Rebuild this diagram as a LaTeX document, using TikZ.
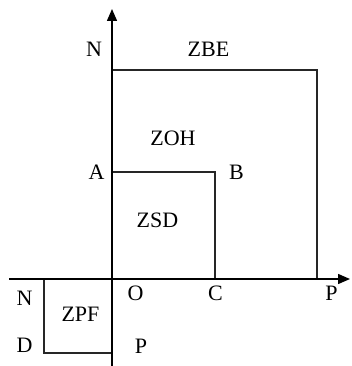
\documentclass[tikz,border=0pt]{standalone}
\usepackage{fontspec}
\setmainfont{Liberation Serif}
\usetikzlibrary{arrows.meta}
\tikzset{
  zonebox/.style={draw=black!85, line width=1.2pt},
  zaxis/.style={draw=black, line width=1.5pt, -{Triangle[length=12pt,width=10pt]}},
  zlabel/.style={font=\fontsize{22}{24}\selectfont, inner sep=0pt}
}

\begin{document}
\begin{tikzpicture}[x=1pt, y=-1pt]
\useasboundingbox (0,0) rectangle (351,366);

% axes
\coordinate (origin) at (112,279);
\coordinate (xstart) at (9,279);
\coordinate (xend) at (350,279);
\coordinate (ystart) at (112,366);
\coordinate (yend) at (112,9);

% zone corners
\coordinate (zbetop) at (112,70);
\coordinate (zbecorner) at (317,70);
\coordinate (zbefoot) at (317,279);
\coordinate (zsdtop) at (112,172);
\coordinate (zsdcorner) at (215,172);
\coordinate (zsdfoot) at (215,279);
\coordinate (zpfleft) at (44,279);
\coordinate (zpfcorner) at (44,353);
\coordinate (zpfbottom) at (112,353);

\draw[zonebox] (zbetop) -- (zbecorner) -- (zbefoot);
\draw[zonebox] (zsdtop) -- (zsdcorner) -- (zsdfoot);
\draw[zonebox] (zpfleft) -- (zpfcorner) -- (zpfbottom);

\draw[zaxis] (xstart) -- (xend);
\draw[zaxis] (ystart) -- (yend);

% labels
\node[zlabel] (ntop) at (94,49) {N};
\node[zlabel] (zbe) at (208.5,49) {ZBE};
\node[zlabel] (zoh) at (173,138.5) {ZOH};
\node[zlabel] (pa) at (96.5,172.5) {A};
\node[zlabel] (pb) at (236.5,172.5) {B};
\node[zlabel] (zsd) at (157.5,220) {ZSD};
\node[zlabel] (po) at (135.5,293.5) {O};
\node[zlabel] (pc) at (215.5,293.5) {C};
\node[zlabel] (pright) at (331.5,293.5) {P};
\node[zlabel] (nleft) at (24.5,298) {N};
\node[zlabel] (zpf) at (80.5,314.5) {ZPF};
\node[zlabel] (pd) at (24.5,345) {D};
\node[zlabel] (pbottom) at (141,346.5) {P};
\end{tikzpicture}
\end{document}
